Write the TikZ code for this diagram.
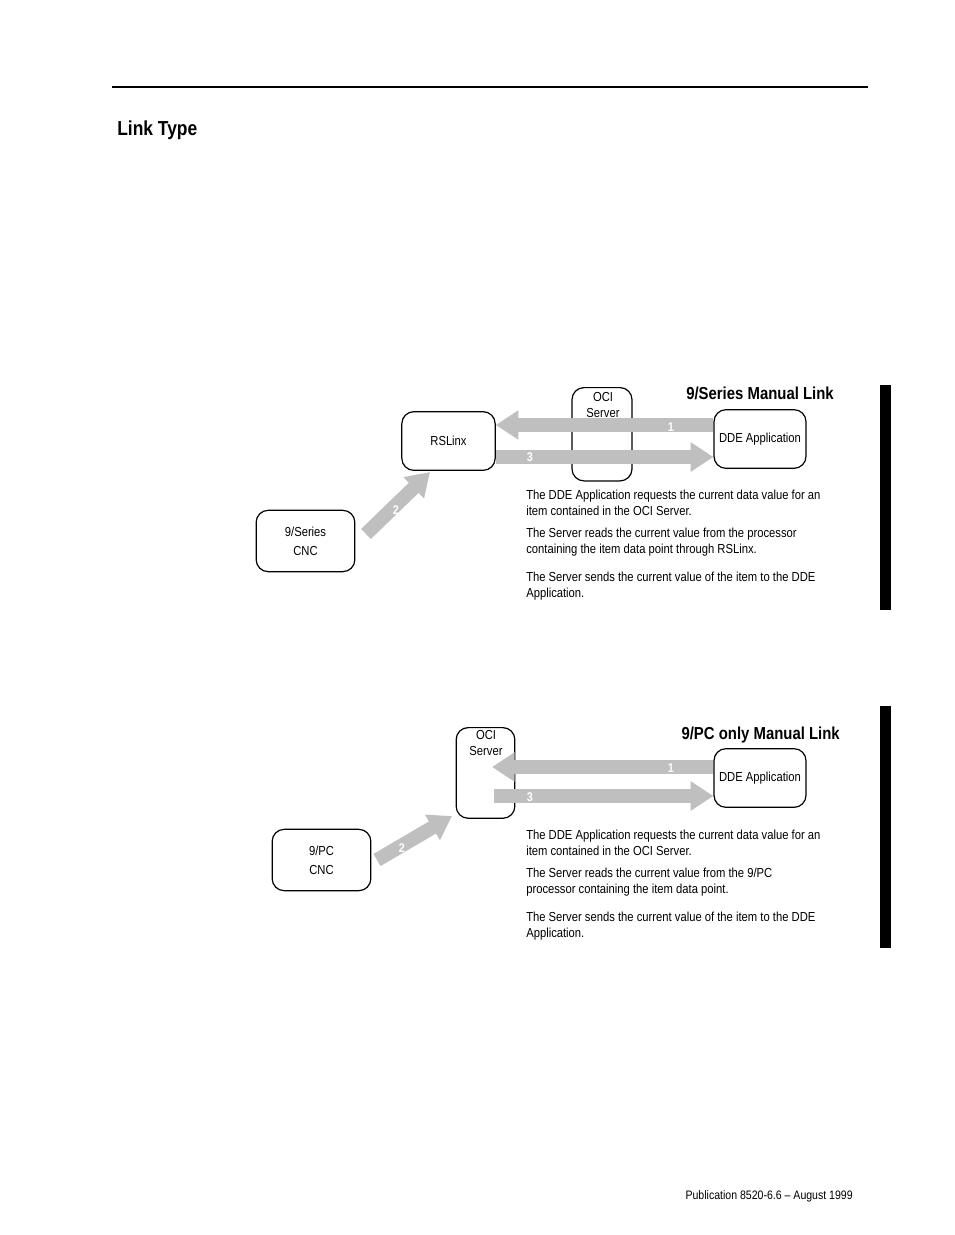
\documentclass[tikz,border=0pt]{standalone}
\usepackage{fontspec}
\setmainfont{Liberation Sans}[FakeStretch=0.86]
\usetikzlibrary{arrows.meta}
\begin{document}
\begin{tikzpicture}[x=0.75pt,y=-0.75pt,
  box/.style={draw,line width=0.9pt,rounded corners=9pt,inner sep=0pt,font=\fontsize{9.8}{14}\selectfont,align=center},
  tbox/.style={inner sep=0pt,font=\fontsize{9.8}{12}\selectfont,align=center},
  fat/.style={draw=black!25,line width=10.5pt,-{Triangle[width=21pt,length=17pt]}},
  num/.style={text=white,font=\bfseries\fontsize{9.5}{10}\selectfont,inner sep=0pt},
  body/.style={anchor=north west,align=left,inner sep=0pt,font=\fontsize{9.8}{12}\selectfont},
  ttl/.style={anchor=base east,inner sep=0pt,font=\bfseries\fontsize{13}{15}\selectfont}]
\useasboundingbox (0,0) rectangle (954,1235);
\draw[line width=1.5pt] (112,87) -- (868,87);
\node[anchor=base west,inner sep=0pt,font=\bfseries\fontsize{15.2}{18}\selectfont] (title) at (117,135) {Link Type};
\fill (880,385) rectangle (891,610);
\fill (880,706) rectangle (891,948);
% top diagram
\node[box,minimum width=70pt,minimum height=44pt] (rs) at (448.5,441) {RSLinx};
\node[box,minimum width=45pt,minimum height=70pt,anchor=north] (oci1) at (602,387) {};
\node[tbox,anchor=north] (oci1t) at (603,392) {OCI\\Server};
\node[box,minimum width=69pt,minimum height=44pt] (dde1) at (760,439) {DDE Application};
\node[box,minimum width=74pt,minimum height=46pt] (cnc1) at (305.5,541) {9/Series\\CNC};
\coordinate (a1s) at (dde1.west |- 0,425);
\coordinate (a1e) at (rs.east |- 0,425);
\coordinate (a3s) at (rs.east |- 0,457);
\coordinate (a3e) at (dde1.west |- 0,457);
\draw[fat] (a1s) -- (a1e);
\draw[fat] (a3s) -- (a3e);
\coordinate (a2s) at (366,534);
\draw[fat] (a2s) -- (430,472);
\node[num] (n1a) at (671,427) {1};
\node[num] (n3a) at (530,457) {3};
\node[num] (n2a) at (396,510) {2};
\node[ttl] (t1) at (834,399) {9/Series Manual Link};
\node[body] (p1a) at (526,490) {The DDE Application requests the current data value for an\\item contained in the OCI Server.};
\node[body] (p1b) at (526,528) {The Server reads the current value from the processor\\containing the item data point through RSLinx.};
\node[body] (p1c) at (526,572) {The Server sends the current value of the item to the DDE\\Application.};
% bottom diagram
\node[box,minimum width=44pt,minimum height=68pt,anchor=north] (oci2) at (485.5,727) {};
\node[tbox,anchor=north] (oci2t) at (486,730) {OCI\\Server};
\node[box,minimum width=69pt,minimum height=44pt] (dde2) at (760,778) {DDE Application};
\node[box,minimum width=74pt,minimum height=46pt] (cnc2) at (321.5,860) {9/PC\\CNC};
\draw[fat] (dde2.west |- 0,767) -- (492,767);
\draw[fat] (494,796) -- (dde2.west |- 0,796);
\draw[fat] (377,860) -- (452,816);
\node[num] (n1b) at (671,768) {1};
\node[num] (n3b) at (530,797) {3};
\node[num] (n2b) at (402,848) {2};
\node[ttl] (t2) at (840,739) {9/PC only Manual Link};
\node[body] (p2a) at (526,830) {The DDE Application requests the current data value for an\\item contained in the OCI Server.};
\node[body] (p2b) at (526,868) {The Server reads the current value from the 9/PC\\processor containing the item data point.};
\node[body] (p2c) at (526,912) {The Server sends the current value of the item to the DDE\\Application.};
\node[anchor=base east,inner sep=0pt,font=\fontsize{9.2}{10}\selectfont] (foot) at (853,1199) {Publication 8520-6.6 -- August 1999};
\end{tikzpicture}
\end{document}
